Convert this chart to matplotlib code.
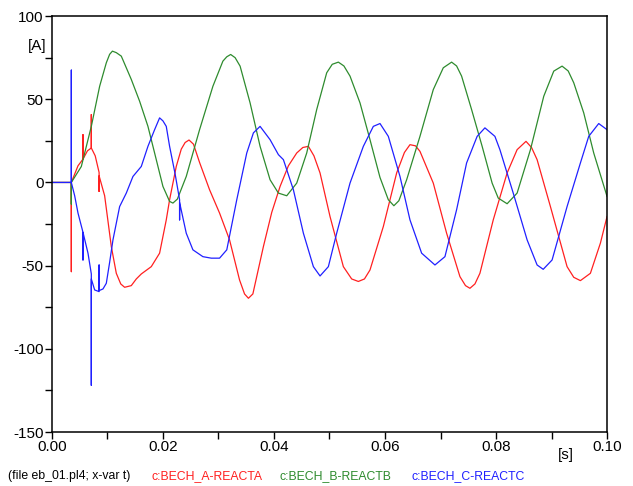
import matplotlib
matplotlib.use('Agg')
import matplotlib.pyplot as plt

plt.rcParams['font.family'] = ['Liberation Sans', 'DejaVu Sans']

# (t [s], current [A])
t_a = [0, 0.0035, 0.0035, 0.0035, 0.0047, 0.0056, 0.0056, 0.0056, 0.0064, 0.0071, 0.0071, 0.0071,
       0.0078, 0.0085, 0.0085, 0.0085, 0.0095, 0.0107, 0.0116, 0.0124, 0.0131, 0.0143, 0.0152, 0.0161,
       0.0179, 0.0194, 0.0206, 0.0212, 0.0224, 0.0233, 0.024, 0.0247, 0.0255, 0.0266, 0.0284, 0.0302,
       0.032, 0.0338, 0.0347, 0.0354, 0.0362, 0.0381, 0.0396, 0.0411, 0.0426, 0.0441, 0.0452, 0.0462,
       0.0472, 0.0483, 0.0501, 0.0525, 0.054, 0.0552, 0.0563, 0.0573, 0.0597, 0.0621, 0.0635, 0.0645,
       0.0655, 0.0663, 0.0687, 0.0711, 0.0735, 0.0745, 0.0753, 0.0762, 0.0771, 0.0795, 0.082, 0.0838,
       0.0854, 0.0864, 0.0874, 0.0898, 0.0928, 0.094, 0.0952, 0.097, 0.0988, 0.1]
i_a = [0, 0, -53.6, 0, 10, 14, 28.7, 14, 19, 20.7, 40.8, 20.7,
       16, 6, -5.4, 4, -8, -38.5, -54.6, -61, -63, -62, -58, -55,
       -50.6, -42.5, -22.5, -10.4, 9.6, 20, 24, 25.5, 23, 12, -4.4, -18.4,
       -34.5, -58.6, -67, -69.6, -67, -38.5, -18, -2.4, 10, 17.7, 21, 21.7,
       16, 5.7, -20.5, -50.6, -58, -59.5, -58, -52.6, -26.5, 5.7, 18, 22.7,
       22, 18.7, -0.4, -30.5, -56.6, -62, -63.6, -61, -54.6, -22.5, 5.7, 19.7,
       24.7, 21, 13.7, -14.5, -50.6, -57, -59, -54.6, -36.5, -20.5]

t_b = [0, 0.0035, 0.0035, 0.0035, 0.0053, 0.0071, 0.0086, 0.0098, 0.0104, 0.0109, 0.0116, 0.0125,
       0.0143, 0.0158, 0.0173, 0.0185, 0.02, 0.0212, 0.0218, 0.0226, 0.0242, 0.0266, 0.029, 0.0308,
       0.0315, 0.0322, 0.033, 0.0339, 0.0357, 0.0375, 0.0393, 0.0408, 0.0423, 0.0441, 0.0459, 0.0477,
       0.0495, 0.0505, 0.0516, 0.0526, 0.0537, 0.0555, 0.0573, 0.0591, 0.0606, 0.0616, 0.0625, 0.0639,
       0.0663, 0.0687, 0.0705, 0.072, 0.0729, 0.0738, 0.0756, 0.0775, 0.0793, 0.0804, 0.082, 0.0838,
       0.0862, 0.0886, 0.0904, 0.0919, 0.093, 0.094, 0.0958, 0.0976, 0.1]
i_b = [0, 0, -13, 0, 9.6, 33.7, 57.8, 71.9, 77, 78.9, 78, 75.9,
       61.9, 48.8, 33.7, 17.7, -2.4, -11.4, -12.4, -10, 3.6, 31.7, 57.8, 72.9,
       75.5, 76.9, 75, 69.9, 47.8, 21.7, 1.6, -6.4, -8, -0.4, 17.7, 43.8,
       65.9, 71, 72.3, 70, 63.9, 47.8, 25.7, 3, -10.4, -14, -11, 1.6,
       27.7, 55.8, 68.9, 72.3, 70, 63.9, 43.8, 21.7, -0.4, -9.4, -12.8, -6.4,
       19.7, 51.8, 66.9, 69.9, 67, 59.9, 41.8, 17.7, -8.4]

t_c = [0, 0.0035, 0.0035, 0.0035, 0.0041, 0.0047, 0.0056, 0.0056, 0.0056, 0.0065, 0.0071, 0.0071,
       0.0071, 0.0077, 0.0085, 0.0085, 0.0085, 0.0092, 0.0098, 0.0104, 0.011, 0.0122, 0.0134, 0.0146,
       0.0161, 0.0173, 0.0185, 0.0194, 0.02, 0.0206, 0.0212, 0.0222, 0.023, 0.023, 0.023, 0.0242,
       0.0254, 0.0272, 0.0287, 0.0302, 0.0315, 0.0333, 0.0351, 0.0363, 0.0375, 0.0393, 0.0408, 0.0417,
       0.0435, 0.0453, 0.0471, 0.0483, 0.0498, 0.0513, 0.0537, 0.0561, 0.0579, 0.0591, 0.0606, 0.0627,
       0.0645, 0.0666, 0.069, 0.0708, 0.0729, 0.0747, 0.0766, 0.078, 0.0798, 0.0807, 0.0831, 0.0856,
       0.0874, 0.0885, 0.0901, 0.0928, 0.0952, 0.0967, 0.0985, 0.1]
i_c = [0, 0, 67.5, 0, -8, -18.4, -30, -46.6, -30, -42.5, -55, -121.9,
       -58, -64.6, -65.6, -49.6, -65, -64, -60.6, -48, -34.5, -14.5, -6.4, 3.6,
       9.6, 21.7, 31.7, 38.8, 37, 33.7, 21.7, 5, -10.4, -22.5, -12, -30.5,
       -40.5, -44.6, -45.5, -45.5, -40.5, -10.4, 17.7, 29.8, 33.7, 25.7, 16.7, 13.7,
       -4.4, -30.5, -50.6, -56.2, -50.6, -30.5, -0.4, 21.7, 33.7, 35.4, 27.7, 3.6,
       -22.5, -42.5, -49.6, -44.6, -16.4, 11.7, 27.7, 32.8, 27.7, 19.7, -6.4, -34.5,
       -49.6, -52.2, -46.6, -14.5, 11.7, 27.7, 35.4, 31.7]

names = ['c:BECH_A-REACTA', 'c:BECH_B-REACTB', 'c:BECH_C-REACTC']
header = '(file eb_01.pl4; x-var t)'

yticks = [-150, -125, -100, -75, -50, -25, 0, 25, 50, 75, 100]
ylabels = ['-150', '', '-100', '', '-50', '', '0', '', '50', '', '100']
xticks = [0, 0.01, 0.02, 0.03, 0.04, 0.05, 0.06, 0.07, 0.08, 0.09, 0.10]
xlabels = ['0.00', '', '0.02', '', '0.04', '', '0.06', '', '0.08', '', '0.10']

cols = ['#ff2020', '#2e8b2e', '#2020ff']

fig = plt.figure(figsize=(6.33, 4.86), dpi=100)
ax = fig.add_axes([0.082, 0.111, 0.877, 0.856])

ax.plot(t_a, i_a, color=cols[0], lw=0.9)
ax.plot(t_b, i_b, color=cols[1], lw=0.9)
ax.plot(t_c, i_c, color=cols[2], lw=0.9)

ax.set_xlim(0, 0.1)
ax.set_ylim(-150, 100)
ax.set_yticks(yticks)
ax.set_yticklabels(ylabels)
ax.set_xticks(xticks)
ax.set_xticklabels(xlabels)
ax.tick_params(direction='out', length=5, width=1, labelsize=11, pad=1, colors='black')
for s in ax.spines.values():
    s.set_linewidth(1.1)

fig.text(37 / 633, 1 - 46 / 486, '[A]', ha='center', va='center', fontsize=11)
fig.text(566 / 633, 1 - 455 / 486, '[s]', ha='center', va='center', fontsize=11)

ty = 1 - 476 / 486
fig.text(8 / 633, ty, header, ha='left', va='center', fontsize=8.8, color='black')
for x0, nm, c in zip([151, 280, 411], names, cols):
    fig.text(x0 / 633, ty, nm, ha='left', va='center', fontsize=8.8, color=c)

fig.savefig('out.png', dpi=100)
